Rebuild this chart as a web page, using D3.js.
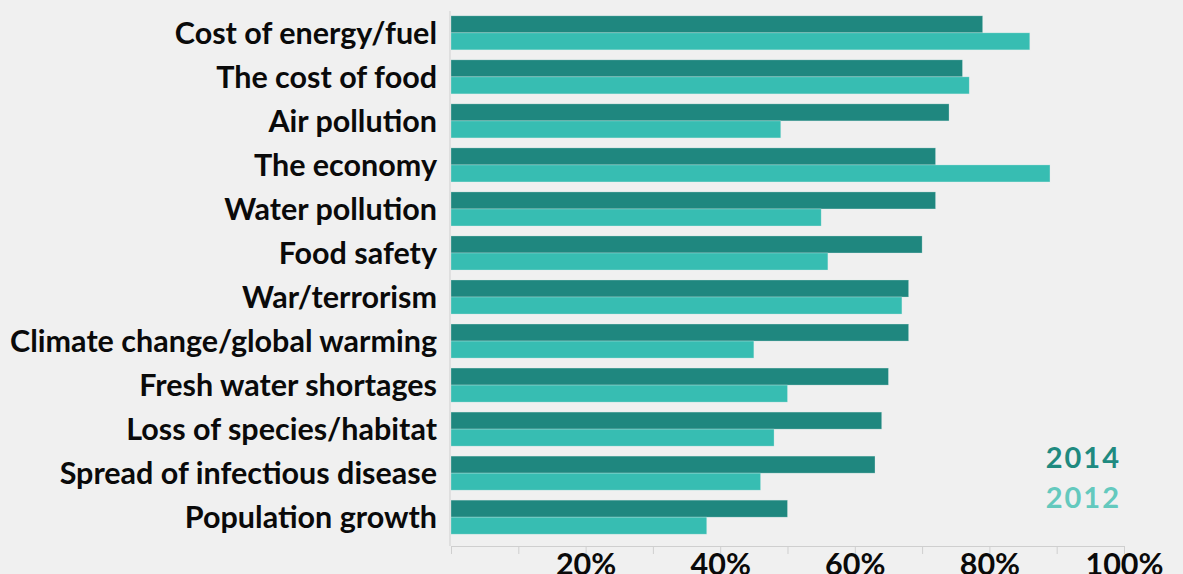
<!DOCTYPE html>
<html><head><meta charset="utf-8">
<script src="https://cdn.jsdelivr.net/npm/d3@7"></script>
<style>
html,body{margin:0;padding:0;background:#f0f0f0;overflow:hidden}
svg{display:block}
text{font-family:Lato,"Open Sans",sans-serif}
</style></head><body>
<svg id="c" width="1183" height="574"></svg>
<script>
const categories = ["Cost of energy/fuel","The cost of food","Air pollution","The economy","Water pollution","Food safety","War/terrorism","Climate change/global warming","Fresh water shortages","Loss of species/habitat","Spread of infectious disease","Population growth"];
const series2014 = [79,76,74,72,72,70,68,68,65,64,63,50];
const series2012 = [86,77,49,89,55,56,67,45,50,48,46,38];
const seriesNames = ["2014","2012"];
const tickValues = [0,10,20,30,40,50,60,70,80,90,100];
const tickLabelValues = [20,40,60,80,100];

const svg = d3.select("#c");
const x = d3.scaleLinear().domain([0,100]).range([451,1124]);
const y = d3.scaleBand().domain(categories).range([11,539]).paddingInner(0.227).paddingOuter(0.11);
const sub = d3.scaleBand().domain(seriesNames).range([0,y.bandwidth()]);
const barColors = {"2014":"#1f877f","2012":"#37bdb2"};
const legendColors = {"2014":"#1f8a80","2012":"#64c9be"};

// measure font size so longest label fits reference width
const probe = svg.append("text").attr("font-weight","bold").attr("font-size",25).text(categories[7]);
const w = probe.node().getComputedTextLength();
probe.remove();
const fs = 25*427/w;

svg.append("line").attr("x1",x(0)-1).attr("x2",x(0)-1).attr("y1",11).attr("y2",546).attr("stroke","#cfcfcf").attr("stroke-width",1);

const rows = svg.append("g").selectAll("g").data(categories).join("g");
rows.each(function(c,i){
  const g = d3.select(this);
  const vals = {"2014":series2014[i],"2012":series2012[i]};
  seriesNames.forEach(s=>{
    g.append("rect").attr("x",x(0)).attr("y",y(c)+sub(s)).attr("width",x(vals[s])-x(0)).attr("height",sub.bandwidth())
     .attr("fill",barColors[s]).attr("stroke","#e0f0ee").attr("stroke-opacity",0.5).attr("stroke-width",0.6);
  });
  g.append("text").attr("x",437).attr("y",y(c)+y.bandwidth()/2).attr("dy","0.36em").attr("text-anchor","end")
    .attr("font-weight","bold").attr("font-size",fs).attr("fill","#0a0a0a").text(c);
});

const axis = d3.axisBottom(x).tickValues(tickValues).tickSize(8).tickFormat(d=>tickLabelValues.includes(d)?d+"%":"");
const ag = svg.append("g").attr("transform","translate(0,546)").call(axis);
ag.select(".domain").attr("stroke","#cfcfcf");
ag.selectAll(".tick line").attr("stroke","#cfcfcf");
ag.selectAll(".tick text").attr("font-family","Lato, sans-serif").attr("font-weight","bold").attr("font-size",fs).attr("fill","#0a0a0a").attr("dy",null).attr("y",29);

seriesNames.forEach((s,i)=>{
  svg.append("text").attr("x",1121).attr("y",468+i*40).attr("text-anchor","end")
    .attr("font-family","'Open Sans',sans-serif").attr("font-weight","bold").attr("font-size",29).attr("letter-spacing","2px")
    .attr("fill",legendColors[s]).text(s);
});
</script>
</body></html>
